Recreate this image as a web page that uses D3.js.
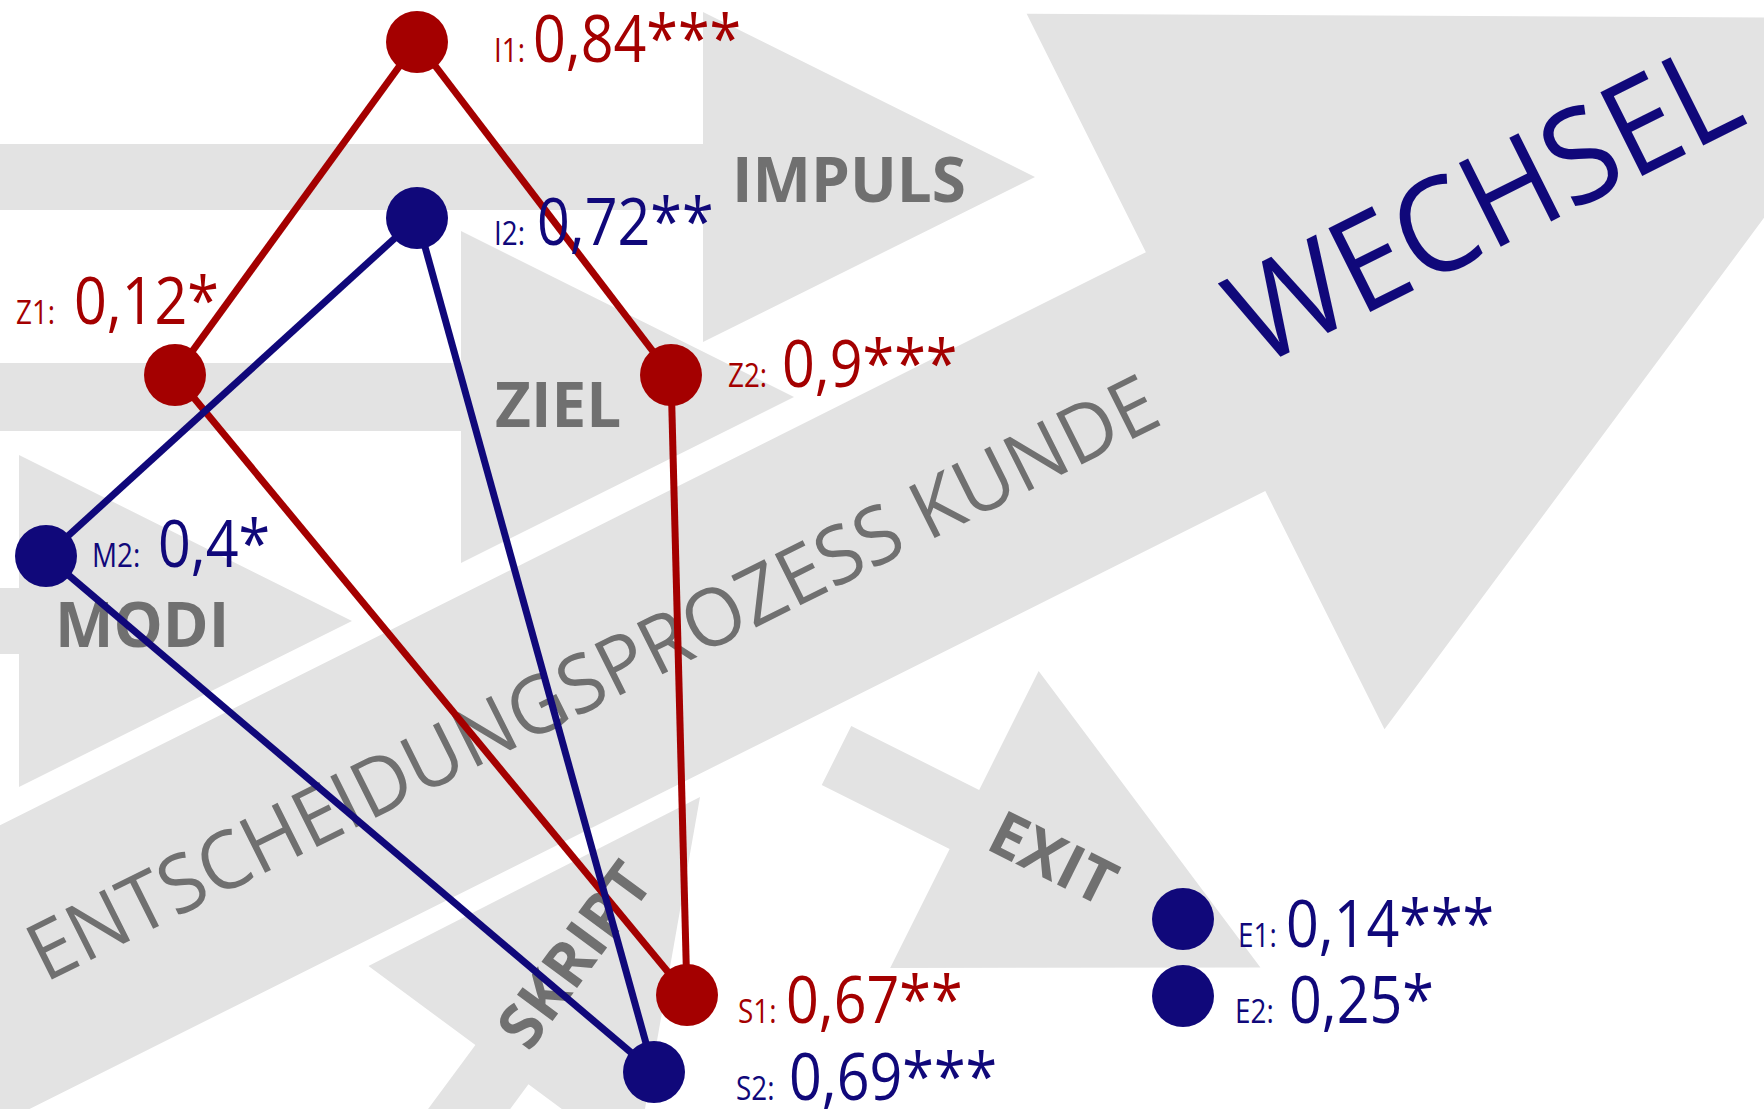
<!DOCTYPE html>
<html lang="de">
  <head>
    <meta charset="utf-8" />
    <title>Entscheidungsprozess Kunde</title>
    <script src="https://cdn.jsdelivr.net/npm/d3@7/dist/d3.min.js"></script>
    <style>
      body { margin: 0; background: #fff; }
      text { font-family: "Open Sans", "Noto Sans", sans-serif; }
    </style>
  </head>
  <body>
    <script>
      // Canvas
      var w = 1764;
      var h = 1109;

      // Data: nodes (id, coefficient, significance, series)
      var nodeIds = ["I1", "I2", "Z1", "Z2", "M2", "S1", "S2", "E1", "E2"];
      var nodeValues = [0.84, 0.72, 0.12, 0.9, 0.4, 0.67, 0.69, 0.14, 0.25];
      var nodeStars = ["***", "**", "*", "***", "*", "**", "***", "***", "*"];
      var nodeSeries = ["A", "B", "A", "A", "B", "A", "B", "B", "B"];

      // Data: connections per series
      var linksA = [["Z1", "I1"], ["I1", "Z2"], ["Z1", "S1"], ["Z2", "S1"]];
      var linksB = [["M2", "I2"], ["I2", "S2"], ["M2", "S2"]];

      // Category / phase labels
      var phases = ["IMPULS", "ZIEL", "MODI", "SKRIPT", "EXIT"];
      var processLabel = "ENTSCHEIDUNGSPROZESS KUNDE";
      var outcomeLabel = "WECHSEL";

      // Layout (design units = pixels of the 1764 x 1109 sheet)
      var nodePos = {
        I1: [417, 42], I2: [417, 218], Z1: [175, 375], Z2: [671, 375],
        M2: [46, 556], S1: [687, 995], S2: [654, 1072],
        E1: [1183, 919], E2: [1183, 996]
      };
      // [label x, value x, baseline y]
      var labelPos = {
        I1: [494, 533, 62], I2: [494, 537, 245], Z1: [16, 74, 324],
        Z2: [728, 782, 387], M2: [92, 158, 567], S1: [738, 786, 1023],
        S2: [736, 789, 1100], E1: [1238, 1286, 947], E2: [1235, 1289, 1023]
      };
      // arrows: tail x, tail y, angle, shaft length, shaft half, head length, head half
      var arrows = [
        { name: "IMPULS", tx: -5, ty: 177, a: 0, sl: 708, sh: 33, hl: 332, hh: 165 },
        { name: "ZIEL", tx: -5, ty: 397, a: 0, sl: 466, sh: 34, hl: 333, hh: 166 },
        { name: "MODI", tx: -5, ty: 621, a: 0, sl: 24, sh: 33, hl: 333, hh: 166 },
        { name: "EXIT", tx: 836.5, ty: 755.5, a: 26.57, sl: 143, sh: 33, hl: 331, hh: 166 },
        { name: "SKRIPT", tip: [700, 797], a: -53.5, sl: 400, sh: 33, hl: 333, hh: 166 },
        { name: "PROZESS", tx: -136, ty: 1042.5, a: -26.57, sl: 1500, sh: 133.5, hl: 790, hh: 400 }
      ];
      // phase label placement: x, y (baseline start), angle, anchor
      var phasePos = {
        IMPULS: [732, 202, 0, "start"],
        ZIEL: [495, 427, 0, "start"],
        MODI: [55, 647, 0, "start"],
        SKRIPT: [592, 968, -53.5, "middle"],
        EXIT: [984, 848, 26.57, "start"]
      };

      var red = "#a40000";
      var navy = "#10087a";
      var grey = "#e3e3e3";
      var textGrey = "#707070";

      var x = d3.scaleLinear().domain([0, 1764]).range([0, w]);
      var y = d3.scaleLinear().domain([0, 1109]).range([0, h]);
      var color = d3.scaleOrdinal().domain(["A", "B"]).range([red, navy]);
      var fmt = d3.formatLocale({ decimal: ",", thousands: ".", grouping: [3], currency: ["", "€"] }).format("~g");

      var nodes = nodeIds.map(function (id, i) {
        return { id: id, value: nodeValues[i], stars: nodeStars[i], series: nodeSeries[i] };
      });

      var svg = d3.select("body").append("svg")
        .attr("width", w)
        .attr("height", h);

      svg.append("rect").attr("width", w).attr("height", h).attr("fill", "#fff");

      // Background arrows
      function arrowPoints(d) {
        return [
          [0, -d.sh], [d.sl, -d.sh], [d.sl, -d.hh], [d.sl + d.hl, 0],
          [d.sl, d.hh], [d.sl, d.sh], [0, d.sh]
        ];
      }
      arrows.forEach(function (d) {
        if (d.tip) {
          var r = d.a * Math.PI / 180;
          var L = d.sl + d.hl;
          d.tx = d.tip[0] - L * Math.cos(r);
          d.ty = d.tip[1] - L * Math.sin(r);
        }
      });
      svg.append("g").selectAll("path")
        .data(arrows)
        .enter()
        .append("path")
        .attr("transform", function (d) {
          return "translate(" + x(d.tx) + "," + y(d.ty) + ") rotate(" + d.a + ")";
        })
        .attr("d", function (d) { return d3.line()(arrowPoints(d)) + "Z"; })
        .attr("fill", grey);

      // Process label along the big arrow
      svg.append("text")
        .attr("transform", "translate(" + x(45) + "," + y(983) + ") rotate(-26.57)")
        .attr("font-size", 80)
        .attr("fill", textGrey)
        .attr("textLength", 1252)
        .attr("lengthAdjust", "spacingAndGlyphs")
        .text(processLabel);

      svg.append("text")
        .attr("transform", "translate(" + x(1258) + "," + y(368) + ") rotate(-26.57)")
        .attr("font-size", 131)
        .attr("fill", navy)
        .attr("textLength", 550)
        .attr("lengthAdjust", "spacingAndGlyphs")
        .text(outcomeLabel);

      // Phase labels
      svg.append("g").selectAll("text")
        .data(phases)
        .enter()
        .append("text")
        .attr("transform", function (d) {
          var p = phasePos[d];
          return "translate(" + x(p[0]) + "," + y(p[1]) + ") rotate(" + p[2] + ")";
        })
        .attr("text-anchor", function (d) { return phasePos[d][3]; })
        .attr("font-size", 62)
        .attr("font-weight", 700)
        .attr("fill", textGrey)
        .text(function (d) { return d; });

      // Connections
      var links = linksA.map(function (l) { return { s: l[0], t: l[1], series: "A" }; })
        .concat(linksB.map(function (l) { return { s: l[0], t: l[1], series: "B" }; }));
      svg.append("g").selectAll("line")
        .data(links)
        .enter()
        .append("line")
        .attr("x1", function (d) { return x(nodePos[d.s][0]); })
        .attr("y1", function (d) { return y(nodePos[d.s][1]); })
        .attr("x2", function (d) { return x(nodePos[d.t][0]); })
        .attr("y2", function (d) { return y(nodePos[d.t][1]); })
        .attr("stroke", function (d) { return color(d.series); })
        .attr("stroke-width", 7);

      // Nodes
      svg.append("g").selectAll("circle")
        .data(nodes)
        .enter()
        .append("circle")
        .attr("cx", function (d) { return x(nodePos[d.id][0]); })
        .attr("cy", function (d) { return y(nodePos[d.id][1]); })
        .attr("r", 31)
        .attr("fill", function (d) { return color(d.series); });

      // Node labels
      var lab = svg.append("g").selectAll("g")
        .data(nodes)
        .enter()
        .append("g")
        .attr("fill", function (d) { return color(d.series); });

      lab.append("text")
        .attr("x", function (d) { return x(labelPos[d.id][0]); })
        .attr("y", function (d) { return y(labelPos[d.id][2]); })
        .attr("font-size", 32)
        .text(function (d) { return d.id + ":"; });

      lab.append("text")
        .attr("x", function (d) { return x(labelPos[d.id][1]); })
        .attr("y", function (d) { return y(labelPos[d.id][2]); })
        .attr("font-size", 66)
        .text(function (d) { return fmt(d.value) + d.stars; });

      // narrower setting, closer to the original typeface
      lab.selectAll("text").each(function () {
        var len = this.getComputedTextLength();
        d3.select(this)
          .attr("textLength", len * 0.87)
          .attr("lengthAdjust", "spacingAndGlyphs");
      });
    </script>
  </body>
</html>
